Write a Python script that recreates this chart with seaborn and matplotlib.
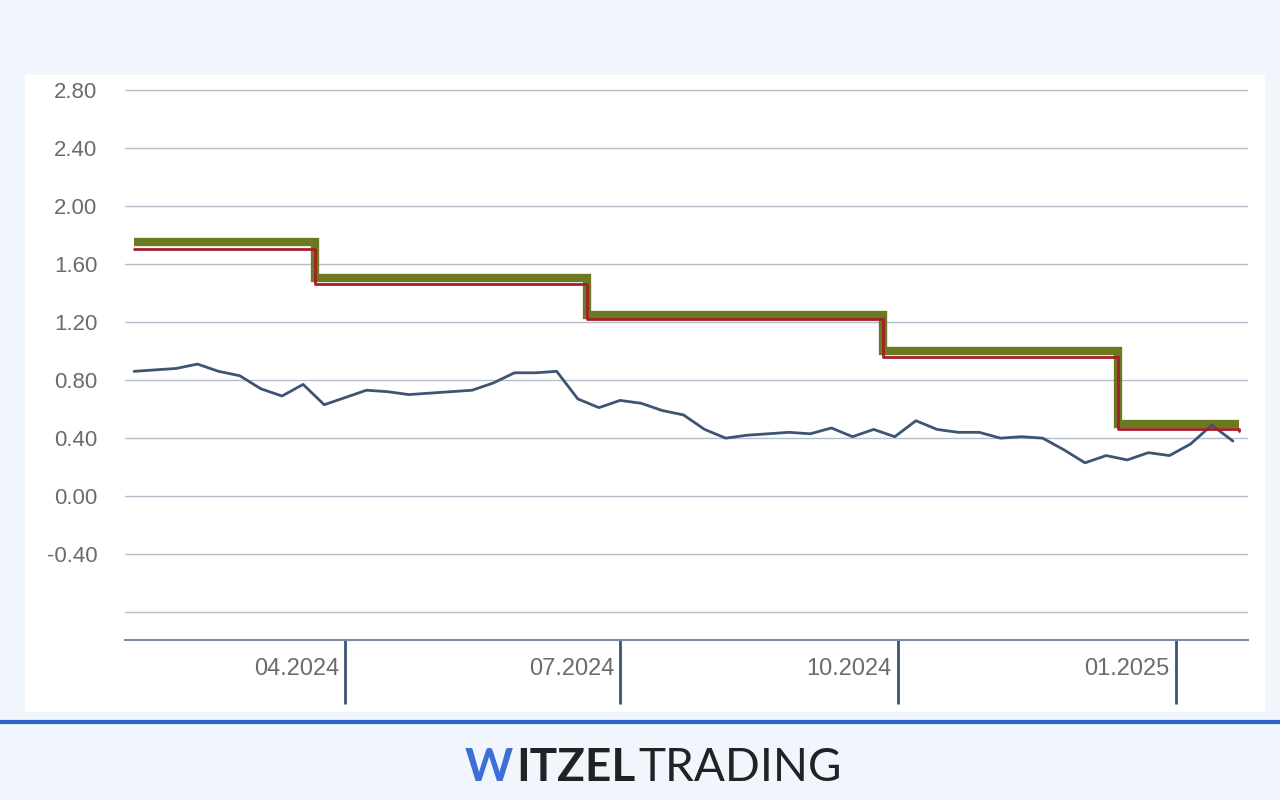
import pandas as pd
import matplotlib.pyplot as plt
import matplotlib.transforms as mtransforms
import seaborn as sns

# weekly share price (blue)
price_dates = pd.date_range('2024-01-22', periods=53, freq='7D')
price = [0.86, 0.87, 0.88, 0.91, 0.86, 0.83, 0.74, 0.69, 0.77, 0.63,
         0.68, 0.73, 0.72, 0.70, 0.71, 0.72, 0.73, 0.78, 0.85, 0.85,
         0.86, 0.67, 0.61, 0.66, 0.64, 0.59, 0.56, 0.46, 0.40, 0.42,
         0.43, 0.44, 0.43, 0.47, 0.41, 0.46, 0.41, 0.52, 0.46, 0.44,
         0.44, 0.40, 0.41, 0.40, 0.32, 0.23, 0.28, 0.25, 0.30, 0.28,
         0.36, 0.49, 0.38]

# step levels (green) and lower line (red)
step_dates = pd.to_datetime(['2024-01-22', '2024-03-22', '2024-06-20',
                             '2024-09-26', '2024-12-13', '2025-01-22'])
green_levels = [1.75, 1.50, 1.25, 1.00, 0.50, 0.50]
red_levels = [1.70, 1.46, 1.22, 0.96, 0.46, 0.45]

yticks = [-0.40, 0.00, 0.40, 0.80, 1.20, 1.60, 2.00, 2.40, 2.80]
xtick_dates = pd.to_datetime(['2024-04-01', '2024-07-01', '2024-10-01', '2025-01-01'])
xtick_labels = ['04.2024', '07.2024', '10.2024', '01.2025']

sns.set_theme(style="white")
plt.rcParams['font.family'] = ['Liberation Sans', 'DejaVu Sans']

fig = plt.figure(figsize=(12.8, 8), dpi=100, facecolor='#f1f6fd')
# white panel behind the chart
panel = fig.add_axes([25/1280, 1-712/800, 1240/1280, 637/800], zorder=0)
panel.set_facecolor('white')
panel.set_xticks([])
panel.set_yticks([])
for s in panel.spines.values():
    s.set_visible(False)

ax = fig.add_axes([125/1280, 1-640/800, 1123/1280, 562/800], zorder=1)
ax.patch.set_alpha(0)

df_price = pd.DataFrame({'date': price_dates, 'price': price})
sns.lineplot(data=df_price, x='date', y='price', ax=ax, color='#3d5573', lw=2, zorder=3)
ax.plot(step_dates, red_levels, drawstyle='steps-post', color='#a51e2a', lw=2, zorder=4)
ax.plot(step_dates, green_levels, drawstyle='steps-post', color='#6b7a1f', lw=6,
        solid_capstyle='butt', solid_joinstyle='miter', zorder=2)

ax.set_ylim(-0.99, 2.88)
ax.set_xlim(pd.Timestamp('2024-01-19'), pd.Timestamp('2025-01-25'))
ax.set_yticks(yticks + [-0.80])
ax.set_yticklabels([f'{v:.2f}' for v in yticks] + [''])
ax.grid(axis='y', color='#b4bfcd', lw=1)
ax.tick_params(axis='y', length=0, labelsize=16, labelcolor='#6b6b6b', pad=20)
for s in ['top', 'right', 'left']:
    ax.spines[s].set_visible(False)
ax.spines['bottom'].set_color('#7f8ea3')
ax.spines['bottom'].set_linewidth(1.5)

ax.set_xticks(xtick_dates)
ax.set_xticklabels([])
ax.tick_params(axis='x', direction='out', length=46, width=2, color='#3d5470', bottom=True)
trans = mtransforms.blended_transform_factory(ax.transData, ax.transAxes)
for d, t in zip(xtick_dates, xtick_labels):
    ax.text(d - pd.Timedelta(days=2), -0.052, t, transform=trans, ha='right', va='center',
            fontsize=17, color='#6b6b6b')
ax.set_xlabel('')
ax.set_ylabel('')

# footer
fig.add_artist(plt.Line2D([0, 1], [1-722/800]*2, color='#2f62c9', lw=3, transform=fig.transFigure))
renderer = fig.canvas.get_renderer()
x0 = 465
for txt, weight, col in [('W', 'bold', '#3d6fd6'), ('ITZEL', 'bold', '#202326'),
                         ('TRADING', 'normal', '#202326')]:
    t = fig.text(x0/1280, 1-768/800, txt, fontsize=33, fontweight=weight, color=col,
                 va='center', family='Lato')
    x0 = t.get_window_extent(renderer).x1 + 3

fig.savefig('out.png', dpi=100, facecolor=fig.get_facecolor())
